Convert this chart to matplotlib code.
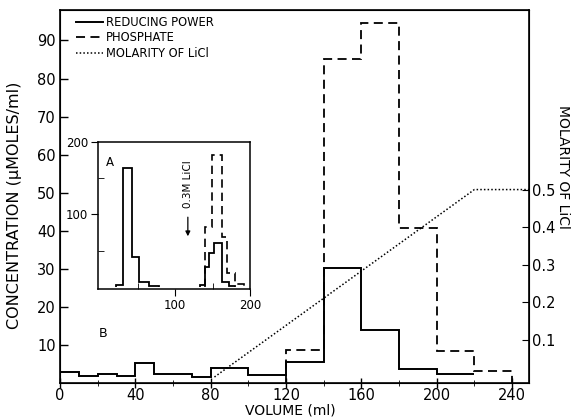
import matplotlib
matplotlib.use("Agg")
import matplotlib.pyplot as plt
import numpy as np

plt.rcParams['font.family'] = ['DejaVu Sans']

# main panel B: 10 ml fractions
reducing_edges = [0, 10, 20, 30, 40, 50, 60, 70, 80, 100, 120, 140, 160, 180, 200, 220]
reducing_power = [2.9, 1.8, 2.3, 1.8, 5.2, 2.4, 2.4, 1.6, 3.9, 2.1, 5.4, 30.3, 14.0, 3.7, 2.4]

phosphate_edges = [120, 140, 160, 180, 200, 220, 240]
phosphate = [8.7, 85.0, 94.5, 40.8, 8.4, 3.2]

licl_volume = [82, 220, 249]
licl_molarity = [0.0, 0.5, 0.5]

# inset A
inset_red1_edges = [21, 31, 43, 52, 65, 79]
inset_red1 = [3, 164, 41, 7, 1.4]
inset_red2_edges = [133, 140, 145, 152, 163, 172, 180]
inset_red2 = [3, 28, 47, 61, 7, 1.5]
inset_phos_edges = [140, 149, 163, 169, 180, 192]
inset_phos = [83, 182, 69, 19, 4]

dotted = (0, (1, 1.4))
dashed = (0, (5, 3))

fig = plt.figure(figsize=(5.75, 4.18), dpi=100)
ax = fig.add_axes([60/575, 1-383/418, 469/575, 373/418])

ax.stairs(reducing_power, reducing_edges, baseline=None, color='black', lw=1.4,
          label='REDUCING POWER')
ax.stairs(phosphate, phosphate_edges, baseline=0, color='black', lw=1.3,
          linestyle=dashed, label='PHOSPHATE')
ax.plot([], [], color='black', lw=1.1, linestyle=dotted, label='MOLARITY OF LiCl')

ax.set_xlim(0, 249)
ax.set_ylim(0, 98)
ax.set_xticks(np.arange(0, 241, 40))
ax.set_xticks(np.arange(20, 241, 40), minor=True)
ax.set_yticks(np.arange(10, 91, 10))
ax.tick_params(axis='both', which='major', direction='in', length=6, labelsize=10.5,
               pad=3, width=1)
ax.tick_params(axis='x', which='major', direction='inout', length=7, pad=0)
ax.tick_params(axis='x', which='minor', direction='inout', length=5)
for s in ax.spines.values():
    s.set_linewidth(1.2)

ax.legend(loc='upper left', bbox_to_anchor=(0.035, 0.985), frameon=False,
          fontsize=8.3, handlelength=2.3, handletextpad=0.25, labelspacing=0.25,
          borderpad=0, borderaxespad=0)

ax.text(23, 13, 'B', fontsize=9, ha='center', va='center')

ax2 = ax.twinx()
ax2.plot(licl_volume, licl_molarity, color='black', lw=1.1, linestyle=dotted)
ax2.set_ylim(-0.016, 0.979)
ax2.set_yticks([0.1, 0.2, 0.3, 0.4, 0.5])
ax2.set_yticklabels(['0.1', '0.2', '0.3', '0.4', '0.5'])
ax2.tick_params(axis='y', direction='in', length=5, labelsize=10.5, pad=2)

fig.text(15/575, 1-205/418, 'CONCENTRATION (\u03bcMOLES/ml)', rotation=90,
         ha='center', va='center', fontsize=11.5)
fig.text(563/575, 1-167/418, 'MOLARITY OF LiCl', rotation=-90,
         ha='center', va='center', fontsize=10)
fig.text(290/575, 1-411/418, 'VOLUME (ml)', ha='center', va='center', fontsize=10)

# inset A
axi = fig.add_axes([98/575, 1-289/418, 152/575, 147/418])
axi.stairs(inset_red1, inset_red1_edges, baseline=0, color='black', lw=1.3)
axi.stairs(inset_red2, inset_red2_edges, baseline=0, color='black', lw=1.3)
axi.stairs(inset_phos, inset_phos_edges, baseline=0, color='black', lw=1.2,
           linestyle=dashed)
axi.set_xlim(-3, 200)
axi.set_ylim(-3, 200)
axi.set_xticks([100, 200])
axi.set_xticks([50, 150], minor=True)
axi.set_yticks([100, 200])
axi.set_yticks([50, 150], minor=True)
axi.tick_params(axis='both', which='major', direction='out', length=5, labelsize=8.5,
                pad=2)
axi.tick_params(axis='both', which='minor', direction='in', length=4)
for s in axi.spines.values():
    s.set_linewidth(1.1)
axi.text(13, 172, 'A', fontsize=8.5, ha='center', va='center')
axi.text(117, 142, '0.3M LiCl', rotation=90, fontsize=7.5, ha='center', va='center')
axi.annotate('', xy=(117, 66), xytext=(117, 100),
             arrowprops=dict(arrowstyle='-|>', color='black', lw=0.9,
                             mutation_scale=7))

fig.savefig('out.png', dpi=100)
